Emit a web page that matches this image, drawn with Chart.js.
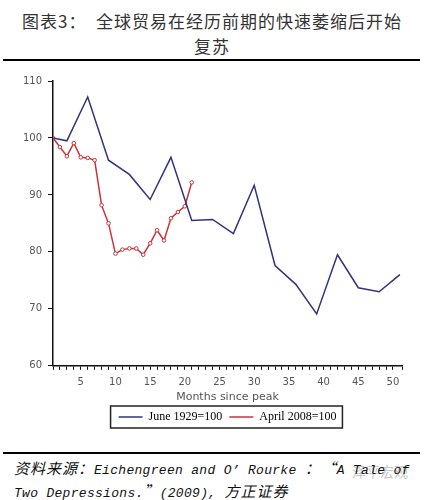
<!DOCTYPE html>
<html lang="zh">
<head>
    <meta charset="UTF-8">
    <title>全球贸易</title>
    <script src="https://cdn.jsdelivr.net/npm/chart.js"></script>
    <style>
        body { margin: 0; background: #fff; width: 424px; height: 500px; position: relative; overflow: hidden; }
        .title { position: absolute; left: 0; width: 424px; text-align: center; font-family: "Noto Sans CJK SC"; font-size: 17px; letter-spacing: 1px; color: #333; }
        .rule { position: absolute; left: 3px; width: 417px; height: 2px; background: #000; }
        .chart-box { position: absolute; left: 0; top: 62px; width: 424px; height: 375px; }
        .source { position: absolute; left: 14px; font-family: "Liberation Mono", "Noto Sans CJK SC"; font-style: italic; font-size: 13px; letter-spacing: 0.3px; color: #111; white-space: nowrap; }
        .source .cn { font-family: "Noto Sans CJK SC"; font-size: 15px; letter-spacing: 1px; }
        .mark { position: absolute; left: 352px; top: 461px; font-family: "Noto Sans CJK SC"; font-size: 14px; color: #c8c8c8; }
    </style>
</head>
<body>
    <div class="title" style="top:8px">图表3：&nbsp;&nbsp;全球贸易在经历前期的快速萎缩后开始</div>
    <div class="title" style="top:33px">复苏</div>
    <div class="rule" style="top:59px"></div>

    <div class="chart-box"><canvas id="tradeChart"></canvas></div>

    <div class="rule" style="top:452px"></div>
    <div class="mark">泽平宏观</div>
    <div class="source" style="top:457px"><span class="cn">资料来源：</span>Eichengreen and O’ Rourke <span class="cn">：“</span>A Tale of</div>
    <div class="source" style="top:480px">Two Depressions.<span class="cn">”</span>(2009), <span class="cn">方正证券</span></div>

    <script>
    // 1929 series, roughly quarterly (months since peak)
    const months1929 = [1, 3, 6, 9, 12, 15, 18, 21, 24, 27, 30, 33, 36, 39, 42, 45, 48, 51];
    const trade1929 = [100, 99.5, 107.2, 96.1, 93.6, 89.2, 96.6, 85.5, 85.7, 83.2, 91.7, 77.6, 74.3, 69.1, 79.5, 73.7, 73.0, 76.0];

    // 2008 series, monthly
    const months2008 = [1, 2, 3, 4, 5, 6, 7, 8, 9, 10, 11, 12, 13, 14, 15, 16, 17, 18, 19, 20, 21];
    const trade2008 = [100, 98.4, 96.8, 99.1, 96.6, 96.5, 96.1, 88.2, 85.0, 79.7, 80.4, 80.6, 80.6, 79.5, 81.5, 83.8, 82.0, 85.9, 87.0, 88.0, 92.2];

    const yTicks = [60, 70, 80, 90, 100, 110];

    const toPoints = (xs, ys) => xs.map((x, i) => ({ x: x, y: ys[i] }));

    // centre legend under the plot area and put a box round it
    const legendBox = {
      id: 'legendBox',
      afterUpdate(chart) {
        const lg = chart.legend;
        const shift = (chart.chartArea.left + chart.chartArea.right) / 2 - (lg.left + lg.right) / 2;
        lg.left += shift;
        lg.right += shift;
        lg.legendHitBoxes.forEach(b => { b.left += shift; });
      },
      afterDraw(chart) {
        const lg = chart.legend;
        if (!lg || !lg.legendHitBoxes.length) return;
        const boxes = lg.legendHitBoxes;
        const last = boxes[boxes.length - 1];
        const left = boxes[0].left - 8, right = last.left + last.width + 6;
        const top = boxes[0].top - 5, bottom = boxes[0].top + boxes[0].height + 5;
        const ctx = chart.ctx;
        ctx.save();
        ctx.strokeStyle = '#222';
        ctx.lineWidth = 1.5;
        ctx.strokeRect(left, top, right - left, bottom - top);
        ctx.restore();
      }
    };

    new Chart(document.getElementById('tradeChart'), {
      type: 'line',
      data: {
        datasets: [
          {
            label: 'June 1929=100',
            data: toPoints(months1929, trade1929),
            borderColor: '#33337f',
            backgroundColor: '#33337f',
            borderWidth: 1.5,
            pointRadius: 0,
            tension: 0
          },
          {
            label: 'April 2008=100',
            data: toPoints(months2008, trade2008),
            borderColor: '#c8343c',
            backgroundColor: '#fff',
            borderWidth: 1.5,
            pointRadius: 1.8,
            pointBorderWidth: 1,
            tension: 0,
            pointStyle: 'circle'
          }
        ]
      },
      options: {
        responsive: true,
        maintainAspectRatio: false,
        animation: false,
        layout: { padding: { left: 0, right: 22, top: 19, bottom: 4 } },
        plugins: {
          legend: {
            position: 'bottom',
            labels: {
              usePointStyle: true,
              boxHeight: 8,
              pointStyleWidth: 24,
              padding: 7,
              color: '#222',
              font: { family: 'Liberation Serif', size: 12 },
              generateLabels(chart) {
                return chart.data.datasets.map((ds, i) => ({
                  text: ds.label,
                  strokeStyle: ds.borderColor,
                  fillStyle: ds.borderColor,
                  lineWidth: 1.5,
                  pointStyle: 'line',
                  datasetIndex: i
                }));
              }
            }
          },
          tooltip: { enabled: false }
        },
        scales: {
          x: {
            type: 'linear',
            min: 1,
            max: 51.3,
            border: { color: '#111', width: 1.5 },
            grid: { drawOnChartArea: false, tickLength: 4, tickColor: '#111' },
            ticks: {
              stepSize: 1,
              autoSkip: false,
              maxRotation: 0,
              color: '#555',
              font: { family: 'DejaVu Sans', size: 10 },
              padding: 7,
              callback: v => (v % 5 === 0 ? v : '')
            },
            title: {
              display: true,
              text: 'Months since peak',
              color: '#555',
              font: { family: 'DejaVu Sans', size: 11 },
              padding: { top: -5, bottom: 0 }
            }
          },
          y: {
            min: 60,
            max: 110,
            afterFit(scale) { scale.width = 53; },
            afterBuildTicks(scale) { scale.ticks = yTicks.map(v => ({ value: v })); },
            border: { color: '#111', width: 1.5 },
            grid: { drawOnChartArea: false, tickLength: 5, tickColor: '#111' },
            ticks: {
              color: '#555',
              font: { family: 'DejaVu Sans', size: 10 },
              padding: 6
            }
          }
        }
      },
      plugins: [legendBox]
    });
    </script>
</body>
</html>
